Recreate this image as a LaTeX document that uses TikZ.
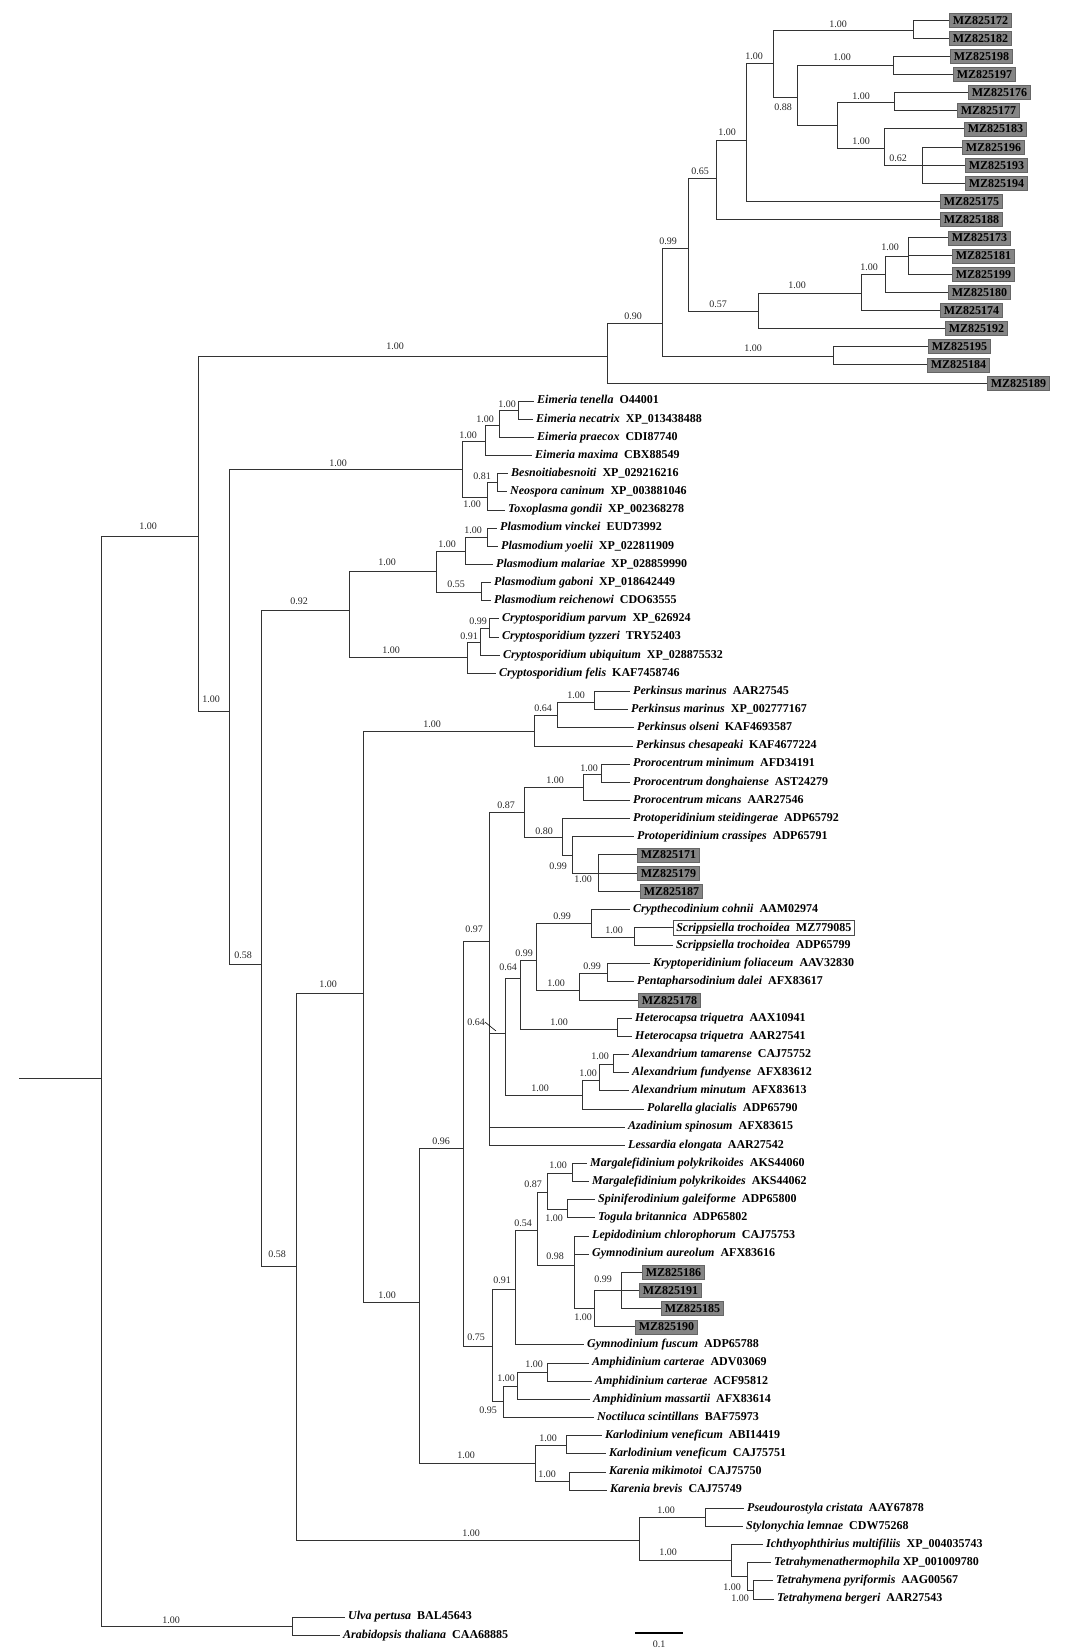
\documentclass[tikz,border=0pt]{standalone}
\usepackage{fontspec}
\setmainfont{Liberation Serif}
% row of leaf #1 (px from top)
\newcommand{\row}[1]{20+18.15*#1}
\newcommand{\taxlab}[2]{\textit{#1}\enspace#2}
\tikzset{
    branch/.style={line width=1pt, draw=black!80},
    taxon/.style={anchor=west, inner xsep=3pt, inner ysep=0pt, text height=8pt, text depth=2.5pt, font=\fontsize{12}{14}\selectfont\bfseries},
    mzleaf/.style={taxon, fill=black!48, draw=black!60, line width=0.6pt, inner xsep=3.5pt, minimum height=14pt, text depth=0pt},
    newseq/.style={taxon, draw=black!70, line width=0.6pt, minimum height=15pt, text depth=0pt},
    supp/.style={inner sep=0pt, font=\fontsize{10}{12}\selectfont, text=black!85},
}
\begin{document}
\begin{tikzpicture}[x=1pt, y=-1pt]
    \useasboundingbox (0,0) rectangle (1069,1652);

    % MZ leaves (top clade):
    \node[mzleaf] (mz172) at (949,{\row{0}}) {MZ825172};
    \node[mzleaf] (mz182) at (949,{\row{1}}) {MZ825182};
    \node[mzleaf] (mz198) at (950,{\row{2}}) {MZ825198};
    \node[mzleaf] (mz197) at (953,{\row{3}}) {MZ825197};
    \node[mzleaf] (mz176) at (968,{\row{4}}) {MZ825176};
    \node[mzleaf] (mz177) at (957,{\row{5}}) {MZ825177};
    \node[mzleaf] (mz183) at (964,{\row{6}}) {MZ825183};
    \node[mzleaf] (mz196) at (962,{\row{7}}) {MZ825196};
    \node[mzleaf] (mz193) at (965,{\row{8}}) {MZ825193};
    \node[mzleaf] (mz194) at (965,{\row{9}}) {MZ825194};
    \node[mzleaf] (mz175) at (940,{\row{10}}) {MZ825175};
    \node[mzleaf] (mz188) at (940,{\row{11}}) {MZ825188};
    \node[mzleaf] (mz173) at (948,{\row{12}}) {MZ825173};
    \node[mzleaf] (mz181) at (952,{\row{13}}) {MZ825181};
    \node[mzleaf] (mz199) at (952,{\row{14}}) {MZ825199};
    \node[mzleaf] (mz180) at (948,{\row{15}}) {MZ825180};
    \node[mzleaf] (mz174) at (940,{\row{16}}) {MZ825174};
    \node[mzleaf] (mz192) at (945,{\row{17}}) {MZ825192};
    \node[mzleaf] (mz195) at (928,{\row{18}}) {MZ825195};
    \node[mzleaf] (mz184) at (927,{\row{19}}) {MZ825184};
    \node[mzleaf] (mz189) at (987,{\row{20}}) {MZ825189};

    % Apicomplexa:
    \node[taxon] (eten) at (534,{\row{21}}) {\taxlab{Eimeria tenella}{O44001}};
    \node[taxon] (enec) at (533,{\row{22}}) {\taxlab{Eimeria necatrix}{XP\_013438488}};
    \node[taxon] (epra) at (534,{\row{23}}) {\taxlab{Eimeria praecox}{CDI87740}};
    \node[taxon] (emax) at (532,{\row{24}}) {\taxlab{Eimeria maxima}{CBX88549}};
    \node[taxon] (bbes) at (508,{\row{25}}) {\taxlab{Besnoitiabesnoiti}{XP\_029216216}};
    \node[taxon] (ncan) at (507,{\row{26}}) {\taxlab{Neospora caninum}{XP\_003881046}};
    \node[taxon] (tgon) at (505,{\row{27}}) {\taxlab{Toxoplasma gondii}{XP\_002368278}};
    \node[taxon] (pvin) at (497,{\row{28}}) {\taxlab{Plasmodium vinckei}{EUD73992}};
    \node[taxon] (pyoe) at (498,{\row{29}}) {\taxlab{Plasmodium yoelii}{XP\_022811909}};
    \node[taxon] (pmal) at (493,{\row{30}}) {\taxlab{Plasmodium malariae}{XP\_028859990}};
    \node[taxon] (pgab) at (491,{\row{31}}) {\taxlab{Plasmodium gaboni}{XP\_018642449}};
    \node[taxon] (prei) at (491,{\row{32}}) {\taxlab{Plasmodium reichenowi}{CDO63555}};
    \node[taxon] (cpar) at (499,{\row{33}}) {\taxlab{Cryptosporidium parvum}{XP\_626924}};
    \node[taxon] (ctyz) at (499,{\row{34}}) {\taxlab{Cryptosporidium tyzzeri}{TRY52403}};
    \node[taxon] (cubi) at (500,{\row{35}}) {\taxlab{Cryptosporidium ubiquitum}{XP\_028875532}};
    \node[taxon] (cfel) at (496,{\row{36}}) {\taxlab{Cryptosporidium felis}{KAF7458746}};

    % Perkinsus:
    \node[taxon] (pmarA) at (630,{\row{37}}) {\taxlab{Perkinsus marinus}{AAR27545}};
    \node[taxon] (pmarB) at (628,{\row{38}}) {\taxlab{Perkinsus marinus}{XP\_002777167}};
    \node[taxon] (pols) at (634,{\row{39}}) {\taxlab{Perkinsus olseni}{KAF4693587}};
    \node[taxon] (pches) at (633,{\row{40}}) {\taxlab{Perkinsus chesapeaki}{KAF4677224}};

    % Dinoflagellates:
    \node[taxon] (prmin) at (630,{\row{41}}) {\taxlab{Prorocentrum minimum}{AFD34191}};
    \node[taxon] (prdon) at (630,{\row{42}}) {\taxlab{Prorocentrum donghaiense}{AST24279}};
    \node[taxon] (prmic) at (630,{\row{43}}) {\taxlab{Prorocentrum micans}{AAR27546}};
    \node[taxon] (ptste) at (630,{\row{44}}) {\taxlab{Protoperidinium steidingerae}{ADP65792}};
    \node[taxon] (ptcra) at (634,{\row{45}}) {\taxlab{Protoperidinium crassipes}{ADP65791}};
    \node[mzleaf] (mz171) at (637,{\row{46}}) {MZ825171};
    \node[mzleaf] (mz179) at (637,{\row{47}}) {MZ825179};
    \node[mzleaf] (mz187) at (640,{\row{48}}) {MZ825187};
    \node[taxon] (ccoh) at (630,{\row{49}}) {\taxlab{Crypthecodinium cohnii}{AAM02974}};
    \node[newseq] (stroA) at (673,{\row{50}}) {\taxlab{Scrippsiella trochoidea}{MZ779085}};
    \node[taxon] (stroB) at (673,{\row{51}}) {\taxlab{Scrippsiella trochoidea}{ADP65799}};
    \node[taxon] (kfol) at (650,{\row{52}}) {\taxlab{Kryptoperidinium foliaceum}{AAV32830}};
    \node[taxon] (pdal) at (634,{\row{53}}) {\taxlab{Pentapharsodinium dalei}{AFX83617}};
    \node[mzleaf] (mz178) at (638,{\row{54}}) {MZ825178};
    \node[taxon] (htriA) at (632,{\row{55}}) {\taxlab{Heterocapsa triquetra}{AAX10941}};
    \node[taxon] (htriB) at (632,{\row{56}}) {\taxlab{Heterocapsa triquetra}{AAR27541}};
    \node[taxon] (atam) at (629,{\row{57}}) {\taxlab{Alexandrium tamarense}{CAJ75752}};
    \node[taxon] (afun) at (629,{\row{58}}) {\taxlab{Alexandrium fundyense}{AFX83612}};
    \node[taxon] (amin) at (629,{\row{59}}) {\taxlab{Alexandrium minutum}{AFX83613}};
    \node[taxon] (pgla) at (644,{\row{60}}) {\taxlab{Polarella glacialis}{ADP65790}};
    \node[taxon] (aspi) at (625,{\row{61}}) {\taxlab{Azadinium spinosum}{AFX83615}};
    \node[taxon] (lelo) at (625,{\row{62}}) {\taxlab{Lessardia elongata}{AAR27542}};
    \node[taxon] (mpolA) at (587,{\row{63}}) {\taxlab{Margalefidinium polykrikoides}{AKS44060}};
    \node[taxon] (mpolB) at (589,{\row{64}}) {\taxlab{Margalefidinium polykrikoides}{AKS44062}};
    \node[taxon] (sgal) at (595,{\row{65}}) {\taxlab{Spiniferodinium galeiforme}{ADP65800}};
    \node[taxon] (tbri) at (595,{\row{66}}) {\taxlab{Togula britannica}{ADP65802}};
    \node[taxon] (lchl) at (589,{\row{67}}) {\taxlab{Lepidodinium chlorophorum}{CAJ75753}};
    \node[taxon] (gaur) at (589,{\row{68}}) {\taxlab{Gymnodinium aureolum}{AFX83616}};
    \node[mzleaf] (mz186) at (642,{\row{69}}) {MZ825186};
    \node[mzleaf] (mz191) at (639,{\row{70}}) {MZ825191};
    \node[mzleaf] (mz185) at (661,{\row{71}}) {MZ825185};
    \node[mzleaf] (mz190) at (635,{\row{72}}) {MZ825190};
    \node[taxon] (gfus) at (584,{\row{73}}) {\taxlab{Gymnodinium fuscum}{ADP65788}};
    \node[taxon] (acarA) at (589,{\row{74}}) {\taxlab{Amphidinium carterae}{ADV03069}};
    \node[taxon] (acarB) at (592,{\row{75}}) {\taxlab{Amphidinium carterae}{ACF95812}};
    \node[taxon] (amas) at (590,{\row{76}}) {\taxlab{Amphidinium massartii}{AFX83614}};
    \node[taxon] (nsci) at (594,{\row{77}}) {\taxlab{Noctiluca scintillans}{BAF75973}};
    \node[taxon] (kvenA) at (602,{\row{78}}) {\taxlab{Karlodinium veneficum}{ABI14419}};
    \node[taxon] (kvenB) at (606,{\row{79}}) {\taxlab{Karlodinium veneficum}{CAJ75751}};
    \node[taxon] (kmik) at (606,{\row{80}}) {\taxlab{Karenia mikimotoi}{CAJ75750}};
    \node[taxon] (kbre) at (607,{\row{81}}) {\taxlab{Karenia brevis}{CAJ75749}};

    % Ciliates and outgroup:
    \node[taxon] (pcri) at (744,{\row{82}}) {\taxlab{Pseudourostyla cristata}{AAY67878}};
    \node[taxon] (slem) at (743,{\row{83}}) {\taxlab{Stylonychia lemnae}{CDW75268}};
    \node[taxon] (imul) at (763,{\row{84}}) {\taxlab{Ichthyophthirius multifiliis}{XP\_004035743}};
    \node[taxon] (tthe) at (771,{\row{85}}) {\textit{Tetrahymenathermophila} XP\_001009780};
    \node[taxon] (tpyr) at (773,{\row{86}}) {\taxlab{Tetrahymena pyriformis}{AAG00567}};
    \node[taxon] (tber) at (774,{\row{87}}) {\taxlab{Tetrahymena bergeri}{AAR27543}};
    \node[taxon] (uper) at (345,{\row{88}}) {\taxlab{Ulva pertusa}{BAL45643}};
    \node[taxon] (atha) at (340,{\row{89}}) {\taxlab{Arabidopsis thaliana}{CAA68885}};

    % inner nodes (x = depth, y = row):
    \coordinate (stem) at (19,1078);
    \coordinate (root) at (101,1078);
    \coordinate (S) at (198,536);
    \coordinate (ulva) at (292,1626);
    \coordinate (mzA) at (607,356);
    \coordinate (mzB) at (662,323);
    \coordinate (mzC) at (688,248);
    \coordinate (mzD) at (833,356);
    \coordinate (mzE) at (716,178);
    \coordinate (mzF) at (758,311);
    \coordinate (mzG) at (746,140);
    \coordinate (mzH) at (773,63);
    \coordinate (mzI) at (913,30);
    \coordinate (mzJ) at (797,97);
    \coordinate (mzK) at (893,65);
    \coordinate (mzL) at (837,125);
    \coordinate (mzM) at (894,102);
    \coordinate (mzN) at (884,148);
    \coordinate (mzO) at (922,165);
    \coordinate (mzP) at (861,293);
    \coordinate (mzQ) at (885,274);
    \coordinate (mzR) at (908,256);
    \coordinate (T) at (229,711);
    \coordinate (U) at (462,469);
    \coordinate (eimA) at (485,441);
    \coordinate (eimB) at (499,425);
    \coordinate (eimC) at (518,410);
    \coordinate (besA) at (487,497);
    \coordinate (besB) at (497,482);
    \coordinate (V) at (261,964);
    \coordinate (W) at (349,610);
    \coordinate (plA) at (436,571);
    \coordinate (plB) at (465,551);
    \coordinate (plC) at (487,537);
    \coordinate (plE) at (481,592);
    \coordinate (crA) at (467,657);
    \coordinate (crB) at (480,642);
    \coordinate (crC) at (489,628);
    \coordinate (X) at (296,1266);
    \coordinate (Y) at (363,993);
    \coordinate (perkA) at (534,731);
    \coordinate (perkB) at (557,715);
    \coordinate (perkC) at (594,702);
    \coordinate (Z) at (419,1302);
    \coordinate (AA) at (463,1148);
    \coordinate (BB) at (489,941);
    \coordinate (DD) at (524,812);
    \coordinate (prA) at (583,787);
    \coordinate (prB) at (601,774);
    \coordinate (ptA) at (562,837);
    \coordinate (ptB) at (572,855);
    \coordinate (ptC) at (598,873);
    \coordinate (EE) at (505,1033);
    \coordinate (FF) at (520,978);
    \coordinate (GG) at (536,960);
    \coordinate (HH) at (591,923);
    \coordinate (scA) at (634,937);
    \coordinate (II) at (579,990);
    \coordinate (krA) at (607,973);
    \coordinate (hetA) at (617,1029);
    \coordinate (alexA) at (582,1095);
    \coordinate (alexB) at (599,1080);
    \coordinate (alexC) at (613,1064);
    \coordinate (CC) at (492,1346);
    \coordinate (mgA) at (515,1289);
    \coordinate (mgB) at (537,1230);
    \coordinate (mgC) at (547,1192);
    \coordinate (mgD) at (572,1173);
    \coordinate (spA) at (567,1209);
    \coordinate (lpA) at (574,1265);
    \coordinate (mzgA) at (594,1308);
    \coordinate (mzgB) at (621,1290);
    \coordinate (amA) at (503,1401);
    \coordinate (amB) at (517,1386);
    \coordinate (amC) at (547,1372);
    \coordinate (karA) at (535,1463);
    \coordinate (karB) at (566,1445);
    \coordinate (karC) at (569,1481);
    \coordinate (cilA) at (639,1540);
    \coordinate (cilB) at (705,1517);
    \coordinate (cilC) at (731,1560);
    \coordinate (tetA) at (747,1576);
    \coordinate (tetB) at (753,1590);

    % branches:
    \draw[branch] (stem) -- (root);
    \draw[branch] (root) |- (S) (root) |- (ulva);
    \draw[branch] (ulva) |- (uper.west) (ulva) |- (atha.west);
    \draw[branch] (S) |- (mzA) (S) |- (T);
    \draw[branch] (mzA) |- (mzB) (mzA) |- (mz189.west);
    \draw[branch] (mzB) |- (mzC) (mzB) |- (mzD);
    \draw[branch] (mzD) |- (mz195.west) (mzD) |- (mz184.west);
    \draw[branch] (mzC) |- (mzE) (mzC) |- (mzF);
    \draw[branch] (mzE) |- (mzG) (mzE) |- (mz188.west);
    \draw[branch] (mzG) |- (mzH) (mzG) |- (mz175.west);
    \draw[branch] (mzH) |- (mzI) (mzH) |- (mzJ);
    \draw[branch] (mzI) |- (mz172.west) (mzI) |- (mz182.west);
    \draw[branch] (mzJ) |- (mzK) (mzJ) |- (mzL);
    \draw[branch] (mzK) |- (mz198.west) (mzK) |- (mz197.west);
    \draw[branch] (mzL) |- (mzM) (mzL) |- (mzN);
    \draw[branch] (mzM) |- (mz176.west) (mzM) |- (mz177.west);
    \draw[branch] (mzN) |- (mz183.west) (mzN) |- (mzO);
    \draw[branch] (mzO) |- (mz196.west) (mzO) |- (mz193.west) (mzO) |- (mz194.west);
    \draw[branch] (mzF) |- (mzP) (mzF) |- (mz192.west);
    \draw[branch] (mzP) |- (mzQ) (mzP) |- (mz174.west);
    \draw[branch] (mzQ) |- (mzR) (mzQ) |- (mz180.west);
    \draw[branch] (mzR) |- (mz173.west) (mzR) |- (mz181.west) (mzR) |- (mz199.west);
    \draw[branch] (T) |- (U) (T) |- (V);
    \draw[branch] (U) |- (eimA) (U) |- (besA);
    \draw[branch] (eimA) |- (eimB) (eimA) |- (emax.west);
    \draw[branch] (eimB) |- (eimC) (eimB) |- (epra.west);
    \draw[branch] (eimC) |- (eten.west) (eimC) |- (enec.west);
    \draw[branch] (besA) |- (besB) (besA) |- (tgon.west);
    \draw[branch] (besB) |- (bbes.west) (besB) |- (ncan.west);
    \draw[branch] (V) |- (W) (V) |- (X);
    \draw[branch] (W) |- (plA) (W) |- (crA);
    \draw[branch] (plA) |- (plB) (plA) |- (plE);
    \draw[branch] (plB) |- (plC) (plB) |- (pmal.west);
    \draw[branch] (plC) |- (pvin.west) (plC) |- (pyoe.west);
    \draw[branch] (plE) |- (pgab.west) (plE) |- (prei.west);
    \draw[branch] (crA) |- (crB) (crA) |- (cfel.west);
    \draw[branch] (crB) |- (crC) (crB) |- (cubi.west);
    \draw[branch] (crC) |- (cpar.west) (crC) |- (ctyz.west);
    \draw[branch] (X) |- (Y) (X) |- (cilA);
    \draw[branch] (Y) |- (perkA) (Y) |- (Z);
    \draw[branch] (perkA) |- (perkB) (perkA) |- (pches.west);
    \draw[branch] (perkB) |- (perkC) (perkB) |- (pols.west);
    \draw[branch] (perkC) |- (pmarA.west) (perkC) |- (pmarB.west);
    \draw[branch] (Z) |- (AA) (Z) |- (karA);
    \draw[branch] (AA) |- (BB) (AA) |- (CC);
    \draw[branch] (BB) |- (DD) (BB) |- (EE) (BB) |- (aspi.west) (BB) |- (lelo.west);
    \draw[branch] (DD) |- (prA) (DD) |- (ptA);
    \draw[branch] (prA) |- (prB) (prA) |- (prmic.west);
    \draw[branch] (prB) |- (prmin.west) (prB) |- (prdon.west);
    \draw[branch] (ptA) |- (ptste.west) (ptA) |- (ptB);
    \draw[branch] (ptB) |- (ptcra.west) (ptB) |- (ptC);
    \draw[branch] (ptC) |- (mz171.west) (ptC) |- (mz179.west) (ptC) |- (mz187.west);
    \draw[branch] (EE) |- (FF) (EE) |- (alexA);
    \draw[branch] (FF) |- (GG) (FF) |- (hetA);
    \draw[branch] (GG) |- (HH) (GG) |- (II);
    \draw[branch] (HH) |- (ccoh.west) (HH) |- (scA);
    \draw[branch] (scA) |- (stroA.west) (scA) |- (stroB.west);
    \draw[branch] (II) |- (krA) (II) |- (mz178.west);
    \draw[branch] (krA) |- (kfol.west) (krA) |- (pdal.west);
    \draw[branch] (hetA) |- (htriA.west) (hetA) |- (htriB.west);
    \draw[branch] (alexA) |- (alexB) (alexA) |- (pgla.west);
    \draw[branch] (alexB) |- (alexC) (alexB) |- (amin.west);
    \draw[branch] (alexC) |- (atam.west) (alexC) |- (afun.west);
    \draw[branch] (CC) |- (mgA) (CC) |- (amA);
    \draw[branch] (mgA) |- (mgB) (mgA) |- (gfus.west);
    \draw[branch] (mgB) |- (mgC) (mgB) |- (lpA);
    \draw[branch] (mgC) |- (mgD) (mgC) |- (spA);
    \draw[branch] (mgD) |- (mpolA.west) (mgD) |- (mpolB.west);
    \draw[branch] (spA) |- (sgal.west) (spA) |- (tbri.west);
    \draw[branch] (lpA) |- (lchl.west) (lpA) |- (gaur.west) (lpA) |- (mzgA);
    \draw[branch] (mzgA) |- (mzgB) (mzgA) |- (mz190.west);
    \draw[branch] (mzgB) |- (mz186.west) (mzgB) |- (mz191.west) (mzgB) |- (mz185.west);
    \draw[branch] (amA) |- (amB) (amA) |- (nsci.west);
    \draw[branch] (amB) |- (amC) (amB) |- (amas.west);
    \draw[branch] (amC) |- (acarA.west) (amC) |- (acarB.west);
    \draw[branch] (karA) |- (karB) (karA) |- (karC);
    \draw[branch] (karB) |- (kvenA.west) (karB) |- (kvenB.west);
    \draw[branch] (karC) |- (kmik.west) (karC) |- (kbre.west);
    \draw[branch] (cilA) |- (cilB) (cilA) |- (cilC);
    \draw[branch] (cilB) |- (pcri.west) (cilB) |- (slem.west);
    \draw[branch] (cilC) |- (imul.west) (cilC) |- (tetA);
    \draw[branch] (tetA) |- (tthe.west) (tetA) |- (tetB);
    \draw[branch] (tetB) |- (tpyr.west) (tetB) |- (tber.west);

    % support values:
    \node[supp] (bS) at (148,526) {1.00};
    \node[supp] (bulva) at (171,1620) {1.00};
    \node[supp] (bmzA) at (395,346) {1.00};
    \node[supp] (bmzB) at (633,316) {0.90};
    \node[supp] (bmzC) at (668,241) {0.99};
    \node[supp] (bmzD) at (753,348) {1.00};
    \node[supp] (bmzE) at (700,171) {0.65};
    \node[supp] (bmzF) at (718,304) {0.57};
    \node[supp] (bmzG) at (727,132) {1.00};
    \node[supp] (bmzH) at (754,56) {1.00};
    \node[supp] (bmzI) at (838,24) {1.00};
    \node[supp] (bmzJ) at (783,107) {0.88};
    \node[supp] (bmzK) at (842,57) {1.00};
    \node[supp] (bmzM) at (861,96) {1.00};
    \node[supp] (bmzN) at (861,141) {1.00};
    \node[supp] (bmzO) at (898,158) {0.62};
    \node[supp] (bmzP) at (797,285) {1.00};
    \node[supp] (bmzQ) at (869,267) {1.00};
    \node[supp] (bmzR) at (890,247) {1.00};
    \node[supp] (bT) at (211,699) {1.00};
    \node[supp] (bU) at (338,463) {1.00};
    \node[supp] (beimA) at (468,435) {1.00};
    \node[supp] (beimB) at (485,419) {1.00};
    \node[supp] (beimC) at (507,404) {1.00};
    \node[supp] (bbesA) at (472,504) {1.00};
    \node[supp] (bbesB) at (482,476) {0.81};
    \node[supp] (bV) at (243,955) {0.58};
    \node[supp] (bW) at (299,601) {0.92};
    \node[supp] (bplA) at (387,562) {1.00};
    \node[supp] (bplB) at (447,544) {1.00};
    \node[supp] (bplC) at (473,530) {1.00};
    \node[supp] (bplE) at (456,584) {0.55};
    \node[supp] (bcrA) at (391,650) {1.00};
    \node[supp] (bcrB) at (469,636) {0.91};
    \node[supp] (bcrC) at (478,621) {0.99};
    \node[supp] (bX) at (277,1254) {0.58};
    \node[supp] (bY) at (328,984) {1.00};
    \node[supp] (bperkA) at (432,724) {1.00};
    \node[supp] (bperkB) at (543,708) {0.64};
    \node[supp] (bperkC) at (576,695) {1.00};
    \node[supp] (bZ) at (387,1295) {1.00};
    \node[supp] (bAA) at (441,1141) {0.96};
    \node[supp] (bBB) at (474,929) {0.97};
    \node[supp] (bDD) at (506,805) {0.87};
    \node[supp] (bprA) at (555,780) {1.00};
    \node[supp] (bprB) at (589,768) {1.00};
    \node[supp] (bptA) at (544,831) {0.80};
    \node[supp] (bptB) at (558,866) {0.99};
    \node[supp] (bptC) at (583,879) {1.00};
    \node[supp] (bEE) at (476,1022) {0.64};
    \coordinate (EEtick) at (496,1031);
    \draw[line width=0.6pt] (bEE.east) -- (EEtick);
    \node[supp] (bFF) at (508,967) {0.64};
    \node[supp] (bGG) at (524,953) {0.99};
    \node[supp] (bHH) at (562,916) {0.99};
    \node[supp] (bscA) at (614,930) {1.00};
    \node[supp] (bII) at (556,983) {1.00};
    \node[supp] (bkrA) at (592,966) {0.99};
    \node[supp] (bhetA) at (559,1022) {1.00};
    \node[supp] (balexA) at (540,1088) {1.00};
    \node[supp] (balexB) at (588,1073) {1.00};
    \node[supp] (balexC) at (600,1056) {1.00};
    \node[supp] (bCC) at (476,1337) {0.75};
    \node[supp] (bmgA) at (502,1280) {0.91};
    \node[supp] (bmgB) at (523,1223) {0.54};
    \node[supp] (bmgC) at (533,1184) {0.87};
    \node[supp] (bmgD) at (558,1165) {1.00};
    \node[supp] (bspA) at (554,1218) {1.00};
    \node[supp] (blpA) at (555,1256) {0.98};
    \node[supp] (bmzgA) at (583,1317) {1.00};
    \node[supp] (bmzgB) at (603,1279) {0.99};
    \node[supp] (bamA) at (488,1410) {0.95};
    \node[supp] (bamB) at (506,1378) {1.00};
    \node[supp] (bamC) at (534,1364) {1.00};
    \node[supp] (bkarA) at (466,1455) {1.00};
    \node[supp] (bkarB) at (548,1438) {1.00};
    \node[supp] (bkarC) at (547,1474) {1.00};
    \node[supp] (bcilA) at (471,1533) {1.00};
    \node[supp] (bcilB) at (666,1510) {1.00};
    \node[supp] (bcilC) at (668,1552) {1.00};
    \node[supp] (btetA) at (732,1587) {1.00};
    \node[supp] (btetB) at (740,1598) {1.00};

    % scale bar:
    \coordinate (sbL) at (635,1633);
    \coordinate (sbR) at (683,1633);
    \draw[line width=1.4pt] (sbL) -- (sbR);
    \node[supp] (sbLab) at (659,1644) {0.1};
\end{tikzpicture}
\end{document}
